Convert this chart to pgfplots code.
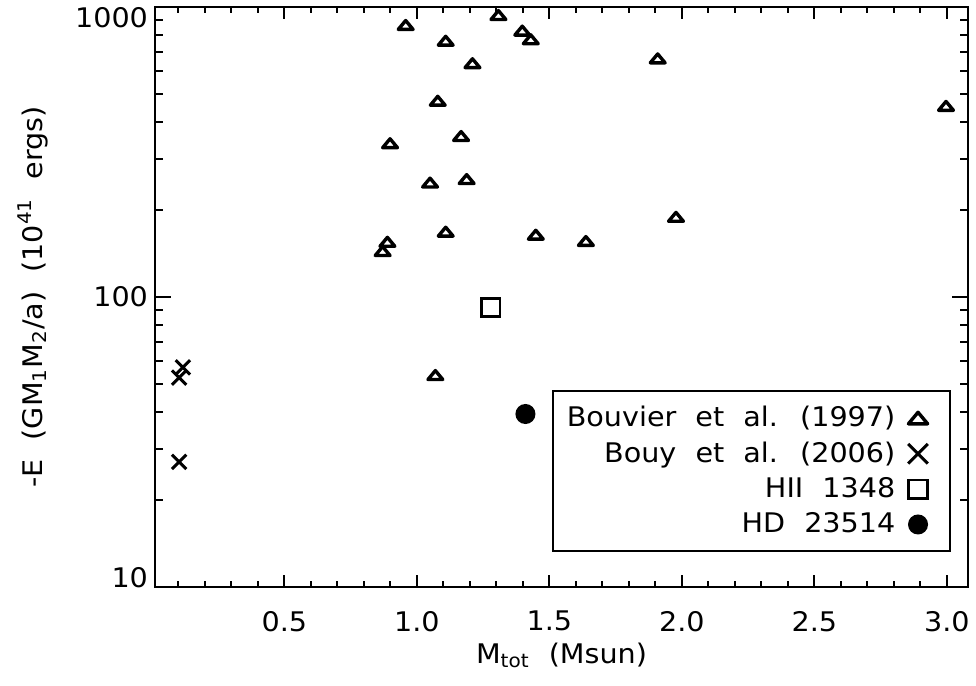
\documentclass[border=0pt]{standalone}
\usepackage{fontspec}
\setmainfont{DejaVu Sans}[WordSpace=2.1,FakeStretch=1.06]
\usepackage{pgfplots}
\pgfplotsset{compat=1.18}

% IDL-style marks
\pgfdeclareplotmark{itri}{%
  \pgfpathmoveto{\pgfqpoint{-\pgfplotmarksize}{-0.6\pgfplotmarksize}}%
  \pgfpathlineto{\pgfqpoint{0pt}{0.6\pgfplotmarksize}}%
  \pgfpathlineto{\pgfqpoint{\pgfplotmarksize}{-0.6\pgfplotmarksize}}%
  \pgfpathclose\pgfusepathqstroke}
\pgfdeclareplotmark{ix}{%
  \pgfpathmoveto{\pgfqpoint{-\pgfplotmarksize}{-\pgfplotmarksize}}%
  \pgfpathlineto{\pgfqpoint{\pgfplotmarksize}{\pgfplotmarksize}}%
  \pgfpathmoveto{\pgfqpoint{-\pgfplotmarksize}{\pgfplotmarksize}}%
  \pgfpathlineto{\pgfqpoint{\pgfplotmarksize}{-\pgfplotmarksize}}%
  \pgfusepathqstroke}

\newcommand{\idlfont}{\fontsize{13.5}{16}\selectfont}

\begin{document}
\begin{tikzpicture}
\begin{axis}[
  at={(77.5pt,49.5pt)}, anchor=south west,
  width=406.5pt, height=290pt, scale only axis,
  ymode=log,
  xmin=0.012, xmax=3.08,
  ymin=10, ymax=1000,
  xtick={0.5,1.0,...,3.0},
  minor xtick={0.1,0.2,...,3.05},
  ytick={10,100,1000},
  yticklabels={\raisebox{-0.45pt}[0pt][0pt]{10},\raisebox{-4.95pt}[0pt][0pt]{100},\raisebox{-10.45pt}[0pt][0pt]{1000}},
  xticklabel style={/pgf/number format/.cd,fixed,fixed zerofill,precision=1,/tikz/.cd,yshift=-8.5pt},
  /pgf/number format/assume math mode=true,
  tick label style={font=\idlfont},
  label style={font=\idlfont},
  tick align=inside,
  xtick pos=both, ytick pos=both,
  major tick length=7pt, minor tick length=3.5pt,
  xtick style={/pgfplots/major tick length=5.8pt,/pgfplots/minor tick length=2.9pt},
  ytick style={/pgfplots/major tick length=8.1pt,/pgfplots/minor tick length=4pt},
  every tick/.style={black,line width=0.9pt},
  axis line style={line width=1pt},
  xlabel={M\textsubscript{tot} (Msun)},
  ylabel={-E (GM\textsubscript{1}M\textsubscript{2}/a) (10\textsuperscript{41} ergs)},
  xlabel style={at={(axis description cs:0.5,-0.118)},anchor=center},
  ylabel style={at={(axis description cs:-0.150,0.5)},anchor=center},
  only marks,
  legend image code/.code={\path (0pt,0pt) (18.5pt,0pt); \draw[#1] plot coordinates {(8.5pt,0pt)};},
  legend style={at={(axis description cs:0.979,0.060)}, anchor=south east,
    font=\idlfont, line width=1.2pt, inner xsep=5pt, inner ysep=5.5pt,
    row sep=2.1pt, cells={anchor=east}},
  legend plot pos=right,
]
\addplot[mark=itri, mark size=3.7pt, line width=1.7pt, line join=round,
  legend image post style={mark size=4.8pt}] coordinates {
  (0.958,867) (1.109,765) (1.308,938) (1.398,829) (1.430,774)
  (1.210,640) (1.079,475) (0.899,339) (1.167,359) (1.050,248)
  (1.188,255) (1.109,168) (0.889,155) (0.871,144) (1.449,164)
  (1.909,665) (2.997,456) (1.978,189) (1.638,156) (1.070,53.8)
};
\addlegendentry{Bouvier et al. (1997)}
\addplot[mark=ix, mark size=3.6pt, line width=1.5pt,
  legend image post style={mark size=4.9pt}] coordinates {
  (0.117,57.2) (0.103,52.7) (0.103,27.0)
};
\addlegendentry{Bouy et al. (2006)}
\addplot[mark=square, mark size=4.6pt, line width=1.4pt] coordinates {
  (1.279,91.9)
};
\addlegendentry{HII 1348}
\addplot[mark=*, mark size=4.5pt, line width=1pt, fill=black] coordinates {
  (1.410,39.5)
};
\addlegendentry{HD 23514}
\end{axis}
\pgfresetboundingbox
\path[use as bounding box] (0,0) rectangle (488pt,343pt);
\end{tikzpicture}
\end{document}
